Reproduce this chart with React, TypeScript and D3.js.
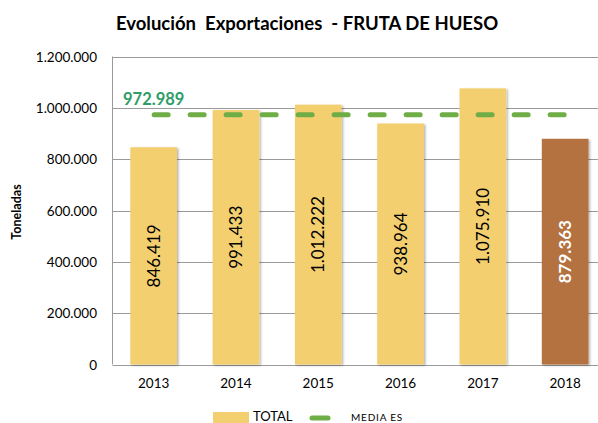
import React from "react";
import * as d3 from "d3";

const years = ["2013", "2014", "2015", "2016", "2017", "2018"];
const totals = [846419, 991433, 1012222, 938964, 1075910, 879363];
const media = 972989;
const yTicks = [0, 200000, 400000, 600000, 800000, 1000000, 1200000];

const W = 598;
const H = 423;
const left = 112.5;
const top = 56.5;
const bottom = 364.5;
const band = 82.3;
const FONT = "Lato, 'Open Sans', sans-serif";

const locale = d3.formatLocale({ decimal: ",", thousands: ".", grouping: [3], currency: ["", ""] });
const fmt = locale.format(",d");

export default function App() {
  const x = d3
    .scaleBand<string>()
    .domain(years)
    .range([left, left + band * years.length])
    .paddingInner(0.433)
    .paddingOuter(0.2165);
  const y = d3.scaleLinear().domain([0, 1200000]).range([bottom, top]);
  const cx = (yr: string) => (x(yr) as number) + x.bandwidth() / 2;

  return (
    <svg width={W} height={H} style={{ position: "absolute", left: 0, top: 0, background: "#fff" }}>
      <defs>
        <filter id="sh" x="-20%" y="-5%" width="150%" height="115%">
          <feDropShadow dx="1.5" dy="1" stdDeviation="1" floodColor="#000" floodOpacity="0.3" />
        </filter>
      </defs>
      <text x={307} y={30} textAnchor="middle" fontFamily={FONT} fontWeight="bold" fontSize={18.5} fill="#000" style={{ whiteSpace: "pre" }}>
        {"Evolución  Exportaciones  - FRUTA DE HUESO"}
      </text>
      {yTicks.map((t) => (
        <g key={t}>
          <line x1={left} x2={W} y1={Math.round(y(t)) + 0.5} y2={Math.round(y(t)) + 0.5} stroke="#9a9a9a" strokeWidth={1} />
          <text x={97} y={y(t) + 5} textAnchor="end" fontFamily={FONT} fontSize={13.5} fill="#000">
            {fmt(t)}
          </text>
        </g>
      ))}
      <line x1={left} x2={left} y1={top} y2={bottom} stroke="#9a9a9a" strokeWidth={1} />
      <text transform={`translate(21,212) rotate(-90)`} textAnchor="middle" fontFamily={FONT} fontWeight="bold" fontSize={12.5} fill="#000">
        Toneladas
      </text>
      {years.map((yr, i) => {
        const last = i === years.length - 1;
        return (
          <rect
            key={yr}
            x={x(yr)}
            y={y(totals[i])}
            width={x.bandwidth()}
            height={bottom - y(totals[i])}
            fill={last ? "#B3723F" : "#F3CF70"}
            filter="url(#sh)"
          />
        );
      })}
      <line
        x1={cx(years[0]) + 0.5}
        x2={cx(years[years.length - 1])}
        y1={y(media)}
        y2={y(media)}
        stroke="#6FAD47"
        strokeWidth={5}
        strokeLinecap="round"
        strokeDasharray="14 22"
      />
      <text x={123} y={105} fontFamily={FONT} fontWeight="bold" fontSize={16.5} fill="#2E9D68">
        {fmt(media)}
      </text>
      {years.map((yr, i) => {
        const last = i === years.length - 1;
        const my = (y(totals[i]) + bottom) / 2;
        return (
          <text
            key={yr}
            transform={`translate(${cx(yr) + 6},${my}) rotate(-90)`}
            textAnchor="middle"
            fontFamily={FONT}
            fontWeight={last ? "bold" : "normal"}
            fontSize={17}
            fill={last ? "#fff" : "#000"}
          >
            {fmt(totals[i])}
          </text>
        );
      })}
      {years.map((yr) => (
        <text key={yr} x={cx(yr)} y={388} textAnchor="middle" fontFamily={FONT} fontSize={13.5} fill="#000">
          {yr}
        </text>
      ))}
      <rect x={213} y={412} width={36} height={11} fill="#F3CF70" />
      <text x={253} y={421} fontFamily={FONT} fontSize={13} fill="#000">
        TOTAL
      </text>
      <line x1={312} x2={328} y1={418} y2={418} stroke="#6FAD47" strokeWidth={5} strokeLinecap="round" />
      <text x={351} y={421} fontFamily={FONT} fontSize={10} letterSpacing={0.8} fill="#000">
        MEDIA ES
      </text>
    </svg>
  );
}
